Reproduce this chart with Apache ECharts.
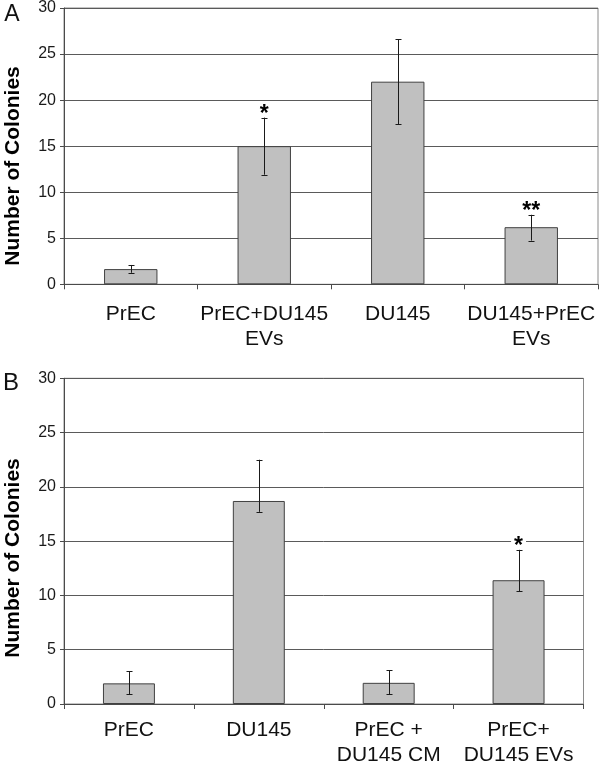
<!DOCTYPE html>
<html>
<head>
<meta charset="utf-8">
<script src="https://cdn.jsdelivr.net/npm/echarts@6/dist/echarts.min.js"></script>
<style>
html,body{margin:0;padding:0;background:#fff;}
#chart{width:600px;height:768px;}
</style>
</head>
<body>
<div id="chart"></div>
<script>
// Panel A
const catsA = ['PrEC', 'PrEC+DU145\nEVs', 'DU145', 'DU145+PrEC\nEVs'];
const valsA = [1.65, 15.0, 22.0, 6.2];
const errUpA = [0.45, 3.1, 4.6, 1.35];
const errDownA = [0.4, 3.1, 4.6, 1.45];
const sigA = ['', '*', '', '**'];

// Panel B
const catsB = ['PrEC', 'DU145', 'PrEC +\nDU145 CM', 'PrEC+\nDU145 EVs'];
const valsB = [1.9, 18.7, 1.95, 11.4];
const errUpB = [1.1, 3.8, 1.15, 2.8];
const errDownB = [1.0, 1.0, 1.05, 1.0];
const sigB = ['', '', '', '*'];

const yTicks = [0, 5, 10, 15, 20, 25, 30];

const FONT = '"Liberation Sans", Arial, sans-serif';

const chart = echarts.init(document.getElementById('chart'), null, {renderer: 'canvas'});

function errData(vals, up, down) {
  return vals.map((v, i) => [i, v, v + up[i], v - down[i]]);
}
function sigData(vals, up, sig) {
  return vals.map((v, i) => [i, v + up[i], sig[i]]);
}

function errRender(params, api) {
  const x = api.value(0);
  const hi = api.coord([x, api.value(2)]);
  const lo = api.coord([x, api.value(3)]);
  const cap = 3;
  const style = {stroke: '#1a1a1a', lineWidth: 1};
  const cx = Math.round(hi[0]) + 0.5;
  return {
    type: 'group',
    children: [
      {type: 'line', shape: {x1: cx, y1: hi[1], x2: cx, y2: lo[1]}, style: style},
      {type: 'line', shape: {x1: cx - cap, y1: Math.round(hi[1]) + 0.5, x2: cx + cap, y2: Math.round(hi[1]) + 0.5}, style: style},
      {type: 'line', shape: {x1: cx - cap, y1: Math.round(lo[1]) + 0.5, x2: cx + cap, y2: Math.round(lo[1]) + 0.5}, style: style}
    ]
  };
}

const sigCache = {};
function sigRender(params, api) {
  const txt = sigCache[params.seriesIndex][params.dataIndex][2];
  if (!txt) return null;
  const p = api.coord([api.value(0), api.value(1)]);
  return {
    type: 'text',
    style: {
      text: txt, x: p[0], y: p[1] - 3,
      align: 'center', verticalAlign: 'middle',
      fill: '#000', font: 'bold 23px ' + FONT,
      backgroundColor: '#fff', padding: [0, 3], lineHeight: 22
    }
  };
}

const gridStyle = {show: true, borderColor: '#8a8a8a', borderWidth: 1, backgroundColor: '#fff'};

function yAxis(gi) {
  return {
    type: 'value', gridIndex: gi, min: 0, max: 30, interval: 5,
    axisLine: {show: true, lineStyle: {color: '#4a4a4a', width: 1}},
    axisTick: {show: true, length: 4, lineStyle: {color: '#4a4a4a'}},
    axisLabel: {fontSize: 16, color: '#1a1a1a', fontFamily: FONT, margin: 8,
      formatter: v => (yTicks.indexOf(v) >= 0 ? String(v) : '')},
    splitLine: {show: true, lineStyle: {color: '#5a5a5a', width: 1}}
  };
}
function xAxis(gi, cats, margin) {
  return {
    type: 'category', gridIndex: gi, data: cats,
    axisLine: {show: true, lineStyle: {color: '#4a4a4a', width: 1}},
    axisTick: {show: true, length: 5, lineStyle: {color: '#4a4a4a'}},
    axisLabel: {fontSize: 21, color: '#111', fontFamily: FONT, margin: margin, lineHeight: 25, interval: 0},
    splitLine: {show: false}
  };
}

const barStyle = {color: '#c0c0c0', borderColor: '#404040', borderWidth: 1};

const dataSigA = sigData(valsA, errUpA, sigA);
const dataSigB = sigData(valsB, errUpB, sigB);
sigCache[2] = dataSigA;
sigCache[3] = dataSigB;

const option = {
  animation: false,
  backgroundColor: '#fff',
  grid: [
    Object.assign({left: 64, right: 2, top: 5, height: 279.3}, gridStyle),
    Object.assign({left: 64, right: 16.5, top: 378.3, height: 328.4}, gridStyle)
  ],
  xAxis: [xAxis(0, catsA, 17), xAxis(1, catsB, 14)],
  yAxis: [yAxis(0), yAxis(1)],
  series: [
    {type: 'bar', xAxisIndex: 0, yAxisIndex: 0, data: valsA, barWidth: '40%', itemStyle: barStyle, z: 2},
    {type: 'bar', xAxisIndex: 1, yAxisIndex: 1, data: valsB, barWidth: '40%', itemStyle: barStyle, z: 2},
    {type: 'custom', xAxisIndex: 0, yAxisIndex: 0, data: dataSigA.map(d => [d[0], d[1]]), renderItem: sigRender, z: 3},
    {type: 'custom', xAxisIndex: 1, yAxisIndex: 1, data: dataSigB.map(d => [d[0], d[1]]), renderItem: sigRender, z: 3},
    {type: 'custom', xAxisIndex: 0, yAxisIndex: 0, data: errData(valsA, errUpA, errDownA), renderItem: errRender, z: 4},
    {type: 'custom', xAxisIndex: 1, yAxisIndex: 1, data: errData(valsB, errUpB, errDownB), renderItem: errRender, z: 4}
  ],
  graphic: [
    {type: 'text', x: 12, y: 15, style: {text: 'A', font: '23px ' + FONT, fill: '#111', align: 'center', verticalAlign: 'middle'}},
    {type: 'text', x: 11, y: 383, style: {text: 'B', font: '24px ' + FONT, fill: '#111', align: 'center', verticalAlign: 'middle'}},
    {type: 'text', x: 13, y: 166, rotation: Math.PI / 2, style: {text: 'Number of Colonies', font: 'bold 21px ' + FONT, fill: '#000', align: 'center', verticalAlign: 'middle'}},
    {type: 'text', x: 13, y: 558, rotation: Math.PI / 2, style: {text: 'Number of Colonies', font: 'bold 21px ' + FONT, fill: '#000', align: 'center', verticalAlign: 'middle'}}
  ]
};

chart.setOption(option);
</script>
</body>
</html>
